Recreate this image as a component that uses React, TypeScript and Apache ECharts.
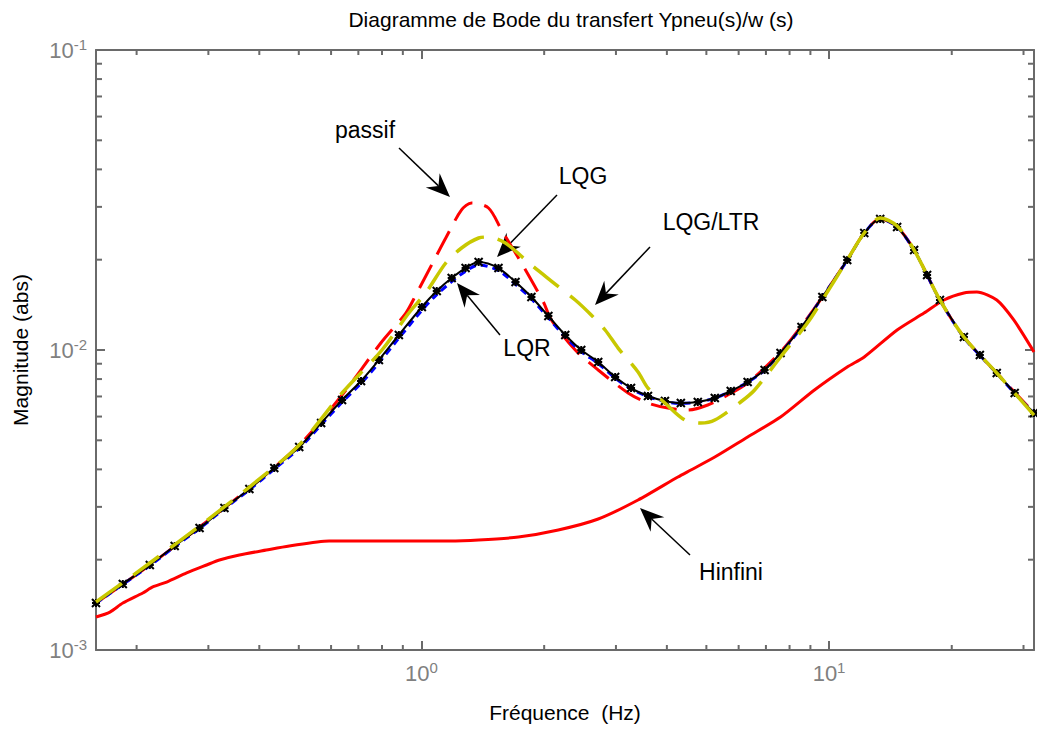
import React, { useEffect, useRef } from "react";
import * as echarts from "echarts";

const FONT = '"Liberation Sans", Arial, Helvetica, sans-serif';
const AXIS_GRAY = "#6a6a6a";
const LABEL_GRAY = "#808080";

const titleText = "Diagramme de Bode du transfert Ypneu(s)/w (s)";
const xName = "Fréquence  (Hz)";
const yName = "Magnitude (abs)";

const freqRange = [0.159, 31.83];
const magRange = [1e-3, 1e-1];

const xMinorTicks = [0.2, 0.3, 0.4, 0.5, 0.6, 0.7, 0.8, 0.9, 2, 3, 4, 5, 6, 7, 8, 9, 20, 30];
const yMinorTicks = [2e-3, 3e-3, 4e-3, 5e-3, 6e-3, 7e-3, 8e-3, 9e-3, 2e-2, 3e-2, 4e-2, 5e-2, 6e-2, 7e-2, 8e-2, 9e-2];

// LQG (black, markers) and LQR (blue dashed) share the same frequency sampling
const lqgFreq = [
  0.159, 0.185, 0.2155, 0.248, 0.2854, 0.3285, 0.3782, 0.4353, 0.5012, 0.5672,
  0.6384, 0.7107, 0.7862, 0.88, 1.002, 1.09, 1.186, 1.283, 1.381, 1.545,
  1.701, 1.861, 2.048, 2.253, 2.466, 2.714, 2.987, 3.267, 3.595, 3.957,
  4.329, 4.764, 5.244, 5.738, 6.313, 6.948, 7.602, 8.557, 9.629, 11.08,
  12.2, 13.35, 14.69, 16.17, 17.4, 18.71, 21.42, 23.44, 25.79, 28.54, 31.83,
];
const lqgMag = [
  1.434e-3, 1.66e-3, 1.92e-3, 2.222e-3, 2.55e-3, 2.974e-3, 3.44e-3, 4.043e-3, 4.749e-3, 5.709e-3,
  6.813e-3, 7.882e-3, 9.261e-3, 1.122e-2, 1.391e-2, 1.573e-2, 1.738e-2, 1.876e-2, 1.965e-2, 1.876e-2,
  1.685e-2, 1.502e-2, 1.298e-2, 1.122e-2, 1.0e-2, 9.12e-3, 8.128e-3, 7.468e-3, 7.025e-3, 6.761e-3,
  6.657e-3, 6.709e-3, 6.918e-3, 7.3e-3, 7.822e-3, 8.577e-3, 9.772e-3, 1.193e-2, 1.502e-2, 1.995e-2,
  2.455e-2, 2.733e-2, 2.57e-2, 2.154e-2, 1.778e-2, 1.468e-2, 1.105e-2, 9.624e-3, 8.38e-3, 7.19e-3, 6.166e-3,
];
const lqrMag = [
  1.43e-3, 1.655e-3, 1.91e-3, 2.21e-3, 2.54e-3, 2.96e-3, 3.42e-3, 4.01e-3, 4.7e-3, 5.63e-3,
  6.7e-3, 7.74e-3, 9.07e-3, 1.095e-2, 1.355e-2, 1.53e-2, 1.69e-2, 1.83e-2, 1.92e-2, 1.84e-2,
  1.655e-2, 1.48e-2, 1.28e-2, 1.105e-2, 9.87e-3, 9.02e-3, 8.06e-3, 7.42e-3, 6.99e-3, 6.73e-3,
  6.64e-3, 6.7e-3, 6.91e-3, 7.29e-3, 7.81e-3, 8.56e-3, 9.75e-3, 1.19e-2, 1.5e-2, 1.99e-2,
  2.45e-2, 2.73e-2, 2.57e-2, 2.15e-2, 1.775e-2, 1.465e-2, 1.1e-2, 9.6e-3, 8.36e-3, 7.17e-3, 6.15e-3,
];

const passifFreq = [
  0.159, 0.2155, 0.2854, 0.3782, 0.5012, 0.6384, 0.7948, 0.9154, 0.9685, 1.084,
  1.147, 1.254, 1.327, 1.46, 1.572, 1.759, 1.991, 2.083, 2.384, 2.714,
  3.213, 3.595, 4.024, 4.503, 5.04, 5.641, 6.313, 7.602, 8.557, 9.629,
  11.08, 12.2, 13.35, 14.69, 16.17, 18.71, 21.42, 25.79, 31.83,
];
const passifMag = [
  1.434e-3, 1.92e-3, 2.57e-3, 3.467e-3, 4.822e-3, 7.079e-3, 1.055e-2, 1.328e-2, 1.525e-2, 2.042e-2,
  2.362e-2, 2.929e-2, 3.09e-2, 2.974e-2, 2.512e-2, 1.95e-2, 1.445e-2, 1.259e-2, 1.0e-2, 8.577e-3,
  7.19e-3, 6.657e-3, 6.405e-3, 6.31e-3, 6.556e-3, 7.079e-3, 7.762e-3, 9.847e-3, 1.202e-2, 1.502e-2,
  1.995e-2, 2.455e-2, 2.733e-2, 2.57e-2, 2.154e-2, 1.468e-2, 1.105e-2, 8.38e-3, 6.166e-3,
];

const ltrFreq = [
  0.159, 0.2155, 0.2854, 0.3782, 0.5012, 0.6384, 0.7998, 0.9309, 1.024, 1.147,
  1.254, 1.381, 1.46, 1.607, 1.861, 2.083, 2.384, 2.609, 2.822, 3.037,
  3.399, 3.595, 3.957, 4.428, 4.845, 5.244, 6.069, 6.567, 7.602, 8.848,
  9.629, 11.08, 12.2, 13.35, 14.69, 16.17, 18.71, 21.42, 25.79, 31.83,
];
const ltrMag = [
  1.445e-3, 1.95e-3, 2.59e-3, 3.493e-3, 4.822e-3, 7.19e-3, 1.0e-2, 1.328e-2, 1.549e-2, 1.95e-2,
  2.188e-2, 2.362e-2, 2.38e-2, 2.273e-2, 1.92e-2, 1.698e-2, 1.468e-2, 1.308e-2, 1.166e-2, 1.015e-2,
  8.446e-3, 7.468e-3, 6.657e-3, 5.842e-3, 5.709e-3, 5.842e-3, 6.709e-3, 7.356e-3, 9.478e-3, 1.23e-2,
  1.468e-2, 1.995e-2, 2.455e-2, 2.754e-2, 2.59e-2, 2.154e-2, 1.468e-2, 1.105e-2, 8.38e-3, 6.07e-3,
];

const hinfFreq = [
  0.159, 0.172, 0.185, 0.2071, 0.2191, 0.237, 0.2653, 0.297, 0.3194, 0.3575,
  0.4162, 0.4737, 0.5935, 0.88, 1.166, 1.381, 1.729, 2.166, 2.714, 3.399,
  4.257, 4.58, 5.244, 6.313, 7.602, 9.207, 11.08, 12.2, 14.69, 17.1,
  19.14, 21.42, 23.05, 25.79, 28.39, 31.83,
];
const hinfMag = [
  1.288e-3, 1.338e-3, 1.434e-3, 1.549e-3, 1.622e-3, 1.685e-3, 1.806e-3, 1.92e-3, 1.995e-3, 2.073e-3,
  2.154e-3, 2.222e-3, 2.309e-3, 2.309e-3, 2.309e-3, 2.326e-3, 2.38e-3, 2.512e-3, 2.733e-3, 3.162e-3,
  3.773e-3, 3.981e-3, 4.398e-3, 5.129e-3, 5.977e-3, 7.356e-3, 8.776e-3, 9.478e-3, 1.166e-2, 1.328e-2,
  1.468e-2, 1.549e-2, 1.561e-2, 1.468e-2, 1.259e-2, 9.847e-3,
];

const annotations = [
  { text: "passif", tx: 365, ty: 130, x1: 399, y1: 148, x2: 450, y2: 197 },
  { text: "LQG", tx: 583, ty: 176, x1: 557, y1: 195, x2: 497, y2: 257 },
  { text: "LQG/LTR", tx: 711, ty: 222, x1: 650, y1: 247, x2: 595, y2: 305 },
  { text: "LQR", tx: 527, ty: 348, x1: 500, y1: 335, x2: 457, y2: 283 },
  { text: "Hinfini", tx: 731, ty: 572, x1: 690, y1: 555, x2: 640, y2: 508 },
];

const zip = (a: number[], b: number[]) => a.map((v, i) => [v, b[i]]);

function arrowShapes(a: { x1: number; y1: number; x2: number; y2: number }) {
  const dx = a.x2 - a.x1;
  const dy = a.y2 - a.y1;
  const len = Math.hypot(dx, dy);
  const ux = dx / len;
  const uy = dy / len;
  const nx = -uy;
  const ny = ux;
  const L = 24;
  const W = 10;
  const N = 16;
  const bx = a.x2 - ux * L;
  const by = a.y2 - uy * L;
  const points = [
    [a.x2, a.y2],
    [bx + nx * W, by + ny * W],
    [a.x2 - ux * N, a.y2 - uy * N],
    [bx - nx * W, by - ny * W],
  ];
  return [
    {
      type: "line",
      shape: { x1: a.x1, y1: a.y1, x2: a.x2 - ux * N, y2: a.y2 - uy * N },
      style: { stroke: "#000", lineWidth: 1.5 },
      silent: true,
    },
    { type: "polygon", shape: { points }, style: { fill: "#000" }, silent: true },
  ];
}

const fmtLabel = (v: number) => {
  const e = Math.log10(v);
  const r = Math.round(e);
  if (Math.abs(e - r) > 1e-6) return "";
  return `{b|10}{s|${r}}`;
};

const rich = {
  b: { fontSize: 22, fontFamily: FONT, color: LABEL_GRAY, lineHeight: 26 },
  s: { fontSize: 15, fontFamily: FONT, color: LABEL_GRAY, lineHeight: 15, verticalAlign: "top" },
};

export default function App() {
  const ref = useRef<HTMLDivElement>(null);
  useEffect(() => {
    if (!ref.current) return;
    const chart = echarts.init(ref.current, undefined, { renderer: "svg" });
    const axisCommon: any = {
      type: "log",
      logBase: 10,
      axisLine: { show: true, onZero: false, lineStyle: { color: AXIS_GRAY, width: 2 } },
      axisTick: { show: true, inside: true, length: 9, lineStyle: { color: AXIS_GRAY, width: 2 } },
      splitLine: { show: false },
      minorTick: { show: false },
      minorSplitLine: { show: false },
    };
    const tickStyle = { stroke: AXIS_GRAY, lineWidth: 2 };
    const graphics: any[] = [];
    annotations.forEach((a) => {
      graphics.push(...arrowShapes(a));
      graphics.push({
        type: "text",
        x: a.tx,
        y: a.ty,
        silent: true,
        style: {
          text: a.text,
          fill: "#000",
          fontSize: 23,
          fontFamily: FONT,
          align: "center",
          verticalAlign: "middle",
        },
      });
    });

    chart.setOption({
      animation: false,
      backgroundColor: "#fff",
      title: {
        text: titleText,
        left: 566,
        top: 4,
        textAlign: "center",
        textStyle: { fontSize: 21, fontWeight: "normal", color: "#000", fontFamily: FONT },
      },
      grid: { left: 96, right: 1, top: 50, bottom: 79, containLabel: false },
      xAxis: [
        {
          ...axisCommon,
          min: freqRange[0],
          max: freqRange[1],
          position: "bottom",
          axisLabel: { formatter: fmtLabel, rich, margin: 10 },
          name: xName,
          nameLocation: "middle",
          nameGap: 52,
          nameTextStyle: { fontSize: 21, color: "#000", fontFamily: FONT },
        },
        {
          ...axisCommon,
          min: freqRange[0],
          max: freqRange[1],
          position: "top",
          axisLabel: { show: false },
        },
      ],
      yAxis: [
        {
          ...axisCommon,
          min: magRange[0],
          max: magRange[1],
          position: "left",
          axisLabel: { formatter: fmtLabel, rich, margin: 9 },
          name: yName,
          nameLocation: "middle",
          nameGap: 65,
          nameRotate: 90,
          nameTextStyle: { fontSize: 21, color: "#000", fontFamily: FONT },
        },
        {
          ...axisCommon,
          min: magRange[0],
          max: magRange[1],
          position: "right",
          axisLabel: { show: false },
        },
      ],
      graphic: graphics,
      series: [
        {
          type: "custom",
          name: "xminor",
          silent: true,
          xAxisIndex: 0,
          yAxisIndex: 0,
          data: xMinorTicks.map((v) => [v, magRange[0]]),
          renderItem: (_p: any, api: any) => {
            const v = api.value(0);
            const pb = api.coord([v, magRange[0]]);
            const pt = api.coord([v, magRange[1]]);
            return {
              type: "group",
              children: [
                { type: "line", shape: { x1: pb[0], y1: pb[1], x2: pb[0], y2: pb[1] - 5 }, style: tickStyle },
                { type: "line", shape: { x1: pt[0], y1: pt[1], x2: pt[0], y2: pt[1] + 5 }, style: tickStyle },
              ],
            };
          },
        },
        {
          type: "custom",
          name: "yminor",
          silent: true,
          xAxisIndex: 0,
          yAxisIndex: 0,
          data: yMinorTicks.map((v) => [freqRange[0], v]),
          renderItem: (_p: any, api: any) => {
            const v = api.value(1);
            const pl = api.coord([freqRange[0], v]);
            const pr = api.coord([freqRange[1], v]);
            return {
              type: "group",
              children: [
                { type: "line", shape: { x1: pl[0], y1: pl[1], x2: pl[0] + 6, y2: pl[1] }, style: tickStyle },
                { type: "line", shape: { x1: pr[0], y1: pr[1], x2: pr[0] - 6, y2: pr[1] }, style: tickStyle },
              ],
            };
          },
        },
        {
          type: "line",
          name: "Hinfini",
          data: zip(hinfFreq, hinfMag),
          smooth: 0.25,
          symbol: "none",
          lineStyle: { color: "#ff0000", width: 3 },
          z: 3,
        },
        {
          type: "line",
          name: "passif",
          data: zip(passifFreq, passifMag),
          smooth: 0.3,
          symbol: "none",
          lineStyle: { color: "#ff0000", width: 3, type: [26, 12] },
          z: 4,
        },
        {
          type: "line",
          name: "LQR",
          data: zip(lqgFreq, lqrMag),
          smooth: 0.3,
          symbol: "none",
          lineStyle: { color: "#0000ff", width: 3, type: [7, 5] },
          z: 5,
        },
        {
          type: "line",
          name: "LQG",
          data: zip(lqgFreq, lqgMag),
          smooth: 0.3,
          symbol: "path://M0,0L10,10M10,0L0,10M5,0L5,10M0,5L10,5",
          symbolSize: 8,
          showSymbol: true,
          itemStyle: { color: "#000", borderColor: "#000", borderWidth: 2 },
          lineStyle: { color: "#000", width: 2 },
          z: 6,
        },
        {
          type: "line",
          name: "LQG/LTR",
          data: zip(ltrFreq, ltrMag),
          smooth: 0.3,
          symbol: "none",
          lineStyle: { color: "#c8c800", width: 3.5, type: [32, 14] },
          z: 7,
        },
      ],
    });
    return () => chart.dispose();
  }, []);
  return (
    <div
      ref={ref}
      style={{ position: "fixed", left: 0, top: 0, width: 1037, height: 729, background: "#fff" }}
    />
  );
}
